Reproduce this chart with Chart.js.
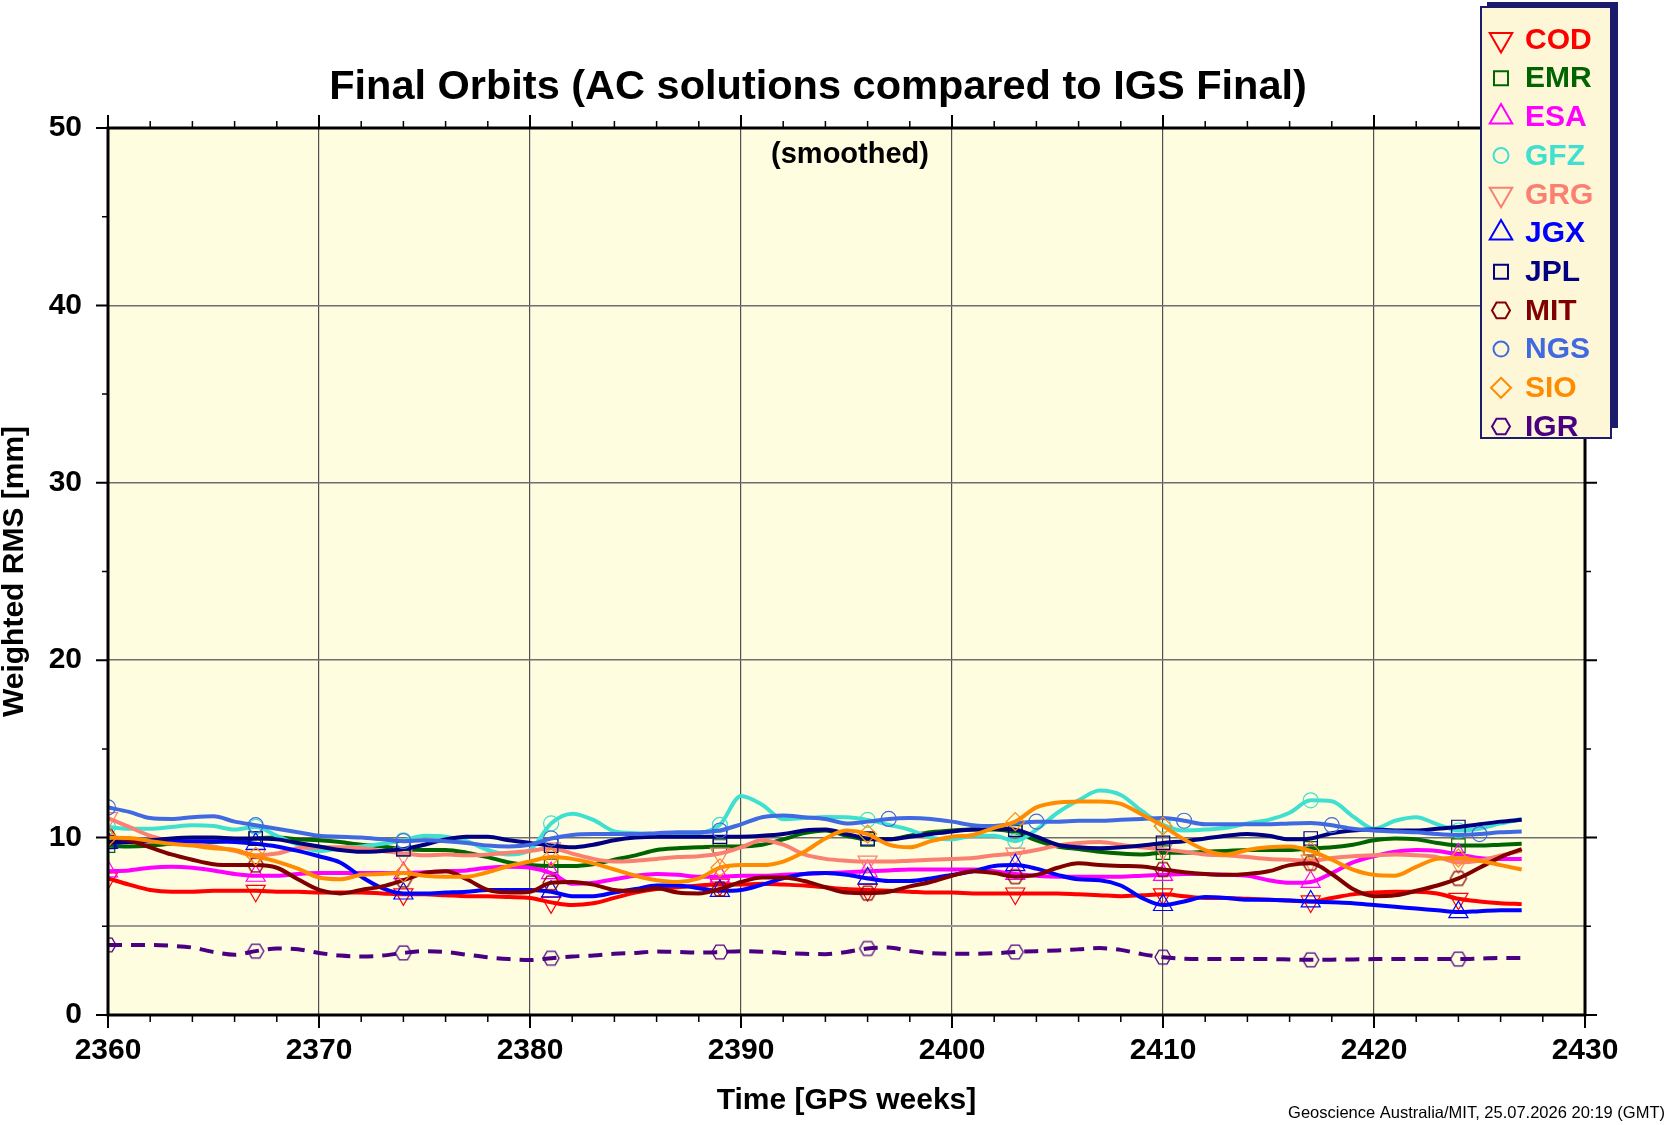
<!DOCTYPE html>
<html>
<head>
<meta charset="utf-8">
<title>Final Orbits</title>
<script src="https://cdn.jsdelivr.net/npm/chart.js@4.4.1/dist/chart.umd.min.js"></script>
<style>
  html, body { margin: 0; padding: 0; background: #fff; }
  #wrap { width: 1667px; height: 1125px; }
</style>
</head>
<body>
<div id="wrap"><canvas id="orbitChart" width="1667" height="1125"></canvas></div>
<script>
// GPS weeks (x axis)
const weeks = [
  2360, 2361, 2362, 2363, 2364, 2365, 2366, 2367, 2368, 2369,
  2370, 2371, 2372, 2373, 2374, 2375, 2376, 2377, 2378, 2379,
  2380, 2381, 2382, 2383, 2384, 2385, 2386, 2387, 2388, 2389,
  2390, 2391, 2392, 2393, 2394, 2395, 2396, 2397, 2398, 2399,
  2400, 2401, 2402, 2403, 2404, 2405, 2406, 2407, 2408, 2409,
  2410, 2411, 2412, 2413, 2414, 2415, 2416, 2417, 2418, 2419,
  2420, 2421, 2422, 2423, 2424, 2425, 2426, 2427
];

// weeks that carry a symbol on the curve
const markWeeks = [2360, 2367, 2374, 2381, 2389, 2396, 2403, 2410, 2417, 2424];
const ngsMarkWeeks = [2360, 2367, 2374, 2381, 2389, 2397, 2404, 2411, 2418, 2425];

// smoothed weighted RMS [mm] per analysis centre
const codRms = [
  7.7, 7.35, 7.05, 6.95, 6.95, 7.0, 7.0, 7.0, 6.95, 6.95,
  6.9, 6.9, 6.9, 6.85, 6.8, 6.8, 6.75, 6.7, 6.7, 6.65,
  6.6, 6.35, 6.2, 6.3, 6.6, 6.9, 7.1, 7.2, 7.3, 7.35,
  7.35, 7.4, 7.35, 7.3, 7.2, 7.1, 7.05, 7.0, 6.95, 6.9,
  6.9, 6.85, 6.85, 6.85, 6.85, 6.85, 6.8, 6.75, 6.7, 6.75,
  6.8, 6.7, 6.6, 6.6, 6.55, 6.5, 6.45, 6.4, 6.6, 6.8,
  6.9, 6.95, 6.95, 6.85, 6.55, 6.4, 6.3, 6.25
];
const emrRms = [
  9.55, 9.5, 9.55, 9.65, 9.7, 9.75, 9.85, 9.95, 10.0, 9.9,
  9.85, 9.75, 9.6, 9.5, 9.35, 9.3, 9.3, 9.15, 8.9, 8.6,
  8.45, 8.4, 8.4, 8.5, 8.75, 9.0, 9.3, 9.4, 9.45, 9.5,
  9.5, 9.6, 9.9, 10.25, 10.4, 10.1, 9.9, 9.9, 10.1, 10.3,
  10.4, 10.45, 10.45, 10.3, 9.85, 9.5, 9.35, 9.2, 9.1, 9.05,
  9.15, 9.15, 9.2, 9.25, 9.3, 9.3, 9.3, 9.4, 9.45, 9.6,
  9.85, 9.95, 9.9, 9.7, 9.55, 9.55, 9.6, 9.65
];
const esaRms = [
  8.1, 8.15, 8.3, 8.35, 8.3, 8.15, 7.95, 7.85, 7.85, 7.95,
  8.0, 8.0, 8.0, 8.0, 8.0, 8.05, 8.1, 8.15, 8.3, 8.35,
  8.3, 8.0, 7.4, 7.45, 7.65, 7.85, 7.95, 7.9, 7.8, 7.8,
  7.85, 7.85, 7.9, 7.95, 8.0, 8.05, 8.1, 8.15, 8.2, 8.2,
  8.2, 8.2, 8.1, 7.95, 7.85, 7.8, 7.8, 7.8, 7.8, 7.85,
  7.9, 7.95, 7.95, 7.9, 7.85, 7.6, 7.45, 7.5, 8.0, 8.6,
  8.95, 9.2, 9.3, 9.25, 9.05, 8.85, 8.8, 8.8
];
const gfzRms = [
  10.6, 10.5, 10.5, 10.6, 10.7, 10.65, 10.45, 10.6, 10.1, 9.6,
  9.25, 9.4, 9.5, 9.65, 9.85, 10.1, 10.05, 9.8, 9.3, 9.05,
  9.3, 10.8, 11.35, 11.0, 10.35, 10.25, 10.2, 10.2, 10.25, 10.72,
  12.35, 11.85, 11.04, 11.1, 11.16, 11.15, 11.0, 10.72, 10.44, 10.0,
  9.9, 10.1, 10.1, 9.8, 10.45, 11.4, 12.1, 12.65, 12.4, 11.5,
  10.72, 10.4, 10.45, 10.55, 10.8, 11.0, 11.4, 12.1, 12.05, 11.2,
  10.5, 10.95, 11.15, 10.75, 10.4, 10.5, 10.8, 11.05
];
const grgRms = [
  11.1, 10.6, 10.1, 9.8, 9.65, 9.5, 9.25, 9.0, 9.1, 9.4,
  9.45, 9.45, 9.4, 9.25, 9.1, 9.0, 9.05, 9.0, 9.05, 9.15,
  9.25, 9.4, 9.1, 8.8, 8.65, 8.7, 8.8, 8.9, 8.95, 9.1,
  9.45, 9.85, 9.6, 9.05, 8.8, 8.7, 8.65, 8.65, 8.7, 8.75,
  8.8, 8.85, 9.0, 9.1, 9.3, 9.55, 9.7, 9.75, 9.6, 9.45,
  9.35, 9.2, 9.05, 9.0, 8.9, 8.8, 8.75, 8.7, 8.85, 8.95,
  9.0, 9.05, 9.0, 8.9, 8.6, 8.7, 9.0, 9.25
];
const jgxRms = [
  9.7, 9.75, 9.8, 9.8, 9.8, 9.8, 9.75, 9.65, 9.5, 9.25,
  8.95, 8.6, 7.8, 7.15, 6.85, 6.85, 6.9, 6.95, 7.05, 7.05,
  7.05, 6.95, 6.7, 6.7, 6.9, 7.1, 7.3, 7.3, 7.15, 7.0,
  7.05, 7.35, 7.7, 7.95, 8.0, 7.9, 7.7, 7.55, 7.55, 7.7,
  7.9, 8.1, 8.4, 8.45, 8.25, 7.9, 7.65, 7.6, 7.3, 6.6,
  6.2, 6.4, 6.65, 6.6, 6.5, 6.5, 6.45, 6.4, 6.35, 6.3,
  6.2, 6.1, 6.0, 5.9, 5.8, 5.85, 5.9, 5.9
];
const jplRms = [
  9.75, 9.75, 9.85, 9.95, 10.0, 10.0, 9.95, 9.95, 9.9, 9.7,
  9.5, 9.3, 9.2, 9.25, 9.35, 9.6, 9.9, 10.05, 10.05, 9.85,
  9.7, 9.55, 9.45, 9.6, 9.85, 10.0, 10.05, 10.05, 10.05, 10.05,
  10.05, 10.1, 10.2, 10.4, 10.45, 10.2, 9.95, 9.9, 10.05, 10.2,
  10.35, 10.45, 10.5, 10.45, 10.05, 9.6, 9.45, 9.4, 9.45, 9.55,
  9.7, 9.8, 9.95, 10.1, 10.2, 10.1, 9.9, 9.95, 10.25, 10.4,
  10.45, 10.4, 10.4, 10.5, 10.6, 10.75, 10.9, 11.0
];
const mitRms = [
  10.05, 9.85, 9.45, 9.05, 8.75, 8.5, 8.45, 8.45, 8.3, 7.65,
  7.05, 6.85, 7.05, 7.25, 7.6, 8.0, 8.1, 7.65, 7.05, 6.9,
  6.95, 7.45, 7.5, 7.35, 7.05, 7.0, 7.15, 6.9, 6.85, 7.1,
  7.5, 7.75, 7.75, 7.55, 7.2, 6.9, 6.87, 6.95, 7.25, 7.5,
  7.85, 8.1, 8.0, 7.8, 7.9, 8.3, 8.55, 8.45, 8.4, 8.37,
  8.2, 8.05, 7.95, 7.9, 7.95, 8.1, 8.45, 8.55, 7.95, 7.1,
  6.7, 6.75, 7.0, 7.3, 7.7, 8.3, 8.9, 9.35
];
const ngsRms = [
  11.7, 11.45, 11.1, 11.05, 11.15, 11.2, 10.9, 10.7, 10.5, 10.3,
  10.1, 10.05, 10.0, 9.9, 9.8, 9.85, 9.8, 9.7, 9.55, 9.5,
  9.6, 9.95, 10.15, 10.2, 10.2, 10.2, 10.25, 10.3, 10.3, 10.4,
  10.75, 11.15, 11.25, 11.15, 11.05, 10.8, 10.9, 11.05, 11.1, 11.05,
  10.9, 10.7, 10.65, 10.8, 10.9, 10.9, 10.95, 10.95, 11.0, 11.05,
  11.1, 10.95, 10.75, 10.75, 10.75, 10.75, 10.8, 10.82, 10.7, 10.5,
  10.4, 10.35, 10.3, 10.2, 10.15, 10.2, 10.3, 10.35
];
const sioRms = [
  10.0, 9.98, 9.8, 9.65, 9.55, 9.4, 9.3, 8.95, 8.65, 8.25,
  7.75, 7.65, 7.9, 7.95, 8.0, 7.85, 7.8, 7.8, 8.05, 8.4,
  8.65, 8.9, 8.8, 8.55, 8.2, 7.85, 7.6, 7.5, 7.7, 8.3,
  8.45, 8.45, 8.65, 9.2, 9.95, 10.4, 10.2, 9.6, 9.45, 9.8,
  10.05, 10.15, 10.55, 10.9, 11.7, 11.98, 12.03, 12.04, 11.9, 11.3,
  10.65, 9.9, 9.3, 9.05, 9.3, 9.45, 9.5, 9.25, 8.75, 8.2,
  7.9, 7.85, 8.35, 8.8, 8.85, 8.7, 8.45, 8.2
];
const igrRms = [
  3.95, 3.95, 3.95, 3.9, 3.8, 3.55, 3.4, 3.6, 3.75, 3.7,
  3.5, 3.35, 3.3, 3.35, 3.5, 3.6, 3.55, 3.4, 3.25, 3.15,
  3.1, 3.2, 3.3, 3.35, 3.45, 3.5, 3.58, 3.55, 3.52, 3.55,
  3.6, 3.57, 3.5, 3.45, 3.43, 3.55, 3.75, 3.8, 3.6, 3.48,
  3.45, 3.45, 3.48, 3.55, 3.6, 3.64, 3.7, 3.77, 3.67, 3.43,
  3.26, 3.17, 3.15, 3.15, 3.15, 3.15, 3.13, 3.11, 3.12, 3.13,
  3.15, 3.15, 3.15, 3.15, 3.15, 3.18, 3.22, 3.22
];

const FONT = '"Liberation Sans", Arial, Helvetica, sans-serif';
Chart.defaults.font.family = FONT;

// outline hexagon used as point style (flat top and bottom)
function hexImage(color, r) {
    const c = document.createElement('canvas');
    c.width = c.height = Math.ceil(r * 2 + 4);
    const g = c.getContext('2d');
    hexPath(g, c.width / 2, c.height / 2, r);
    g.strokeStyle = color;
    g.lineWidth = 1.3;
    g.stroke();
    return c;
}
function hexPath(g, x, y, r) {
    g.beginPath();
    for (let k = 0; k < 6; k++) {
        const a = k * Math.PI / 3;
        const px = x + r * Math.cos(a), py = y + r * Math.sin(a);
        k ? g.lineTo(px, py) : g.moveTo(px, py);
    }
    g.closePath();
}

const series = [
    { name: 'COD', values: codRms, color: '#ff0000', mark: 'triDown' },
    { name: 'EMR', values: emrRms, color: '#006400', mark: 'square' },
    { name: 'ESA', values: esaRms, color: '#ff00ff', mark: 'triUp' },
    { name: 'GFZ', values: gfzRms, color: '#40e0d0', mark: 'circle' },
    { name: 'GRG', values: grgRms, color: '#fa8072', mark: 'triDown' },
    { name: 'JGX', values: jgxRms, color: '#0000ff', mark: 'triUp' },
    { name: 'JPL', values: jplRms, color: '#000080', mark: 'square' },
    { name: 'MIT', values: mitRms, color: '#800000', mark: 'hex' },
    { name: 'NGS', values: ngsRms, color: '#4169e1', mark: 'circle', marks: ngsMarkWeeks },
    { name: 'SIO', values: sioRms, color: '#ff8c00', mark: 'diamond' },
    { name: 'IGR', values: igrRms, color: '#4b0082', mark: 'hex', dash: [14, 9] }
];

// Chart.js point styles for each marker kind
function pointStyleFor(s) {
    switch (s.mark) {
        case 'triDown': return { style: 'triangle', rot: 180, r: 11 };
        case 'triUp': return { style: 'triangle', rot: 0, r: 11 };
        case 'square': return { style: 'rect', rot: 0, r: 9.5 };
        case 'circle': return { style: 'circle', rot: 0, r: 7.5 };
        case 'diamond': return { style: 'rectRot', rot: 0, r: 9 };
        default: return { style: hexImage(s.color, 8), rot: 0, r: 8 };
    }
}

const datasets = series.map((s, i) => {
    const ps = pointStyleFor(s);
    const marks = s.marks || markWeeks;
    return {
        label: s.name,
        data: weeks.map((w, k) => ({ x: w, y: s.values[k] })),
        borderColor: s.color,
        borderWidth: 4,
        borderDash: s.dash || [],
        cubicInterpolationMode: 'monotone',
        fill: false,
        order: series.length - i, // later centres drawn on top
        pointStyle: ps.style,
        pointRotation: ps.rot,
        pointRadius: ctx => (marks.includes(weeks[ctx.dataIndex]) ? ps.r : 0),
        pointHoverRadius: 0,
        pointBorderWidth: 1.2,
        pointBorderColor: s.color,
        pointBackgroundColor: 'rgba(0,0,0,0)'
    };
});

// small legend symbol painter
function drawMark(g, kind, x, y, color) {
    g.save();
    g.strokeStyle = color;
    g.lineWidth = 2;
    g.beginPath();
    if (kind === 'triDown' || kind === 'triUp') {
        const r = 13, d = kind === 'triUp' ? -1 : 1;
        for (let k = 0; k < 3; k++) {
            const a = k * 2 * Math.PI / 3;
            const px = x + r * Math.sin(a), py = y + d * r * Math.cos(a);
            k ? g.lineTo(px, py) : g.moveTo(px, py);
        }
        g.closePath();
    } else if (kind === 'square') {
        g.rect(x - 7, y - 7, 14, 14);
    } else if (kind === 'circle') {
        g.arc(x, y, 7.5, 0, Math.PI * 2);
    } else if (kind === 'diamond') {
        g.moveTo(x, y - 10); g.lineTo(x + 10, y); g.lineTo(x, y + 10); g.lineTo(x - 10, y);
        g.closePath();
    } else {
        hexPath(g, x, y, 9);
    }
    g.stroke();
    g.restore();
}

const decorPlugin = {
    id: 'decor',
    beforeDraw(chart) {
        const { ctx, chartArea: a } = chart;
        ctx.save();
        ctx.fillStyle = '#fffde0';
        ctx.fillRect(a.left, a.top, a.right - a.left, a.bottom - a.top);
        ctx.restore();
    },
    afterDraw(chart) {
        const { ctx, chartArea: a } = chart;
        const xs = chart.scales.x, ys = chart.scales.y;
        ctx.save();

        // frame
        ctx.strokeStyle = '#000';
        ctx.lineWidth = 3;
        ctx.strokeRect(a.left, a.top, a.right - a.left, a.bottom - a.top);

        // outward ticks on all four sides
        ctx.lineCap = 'butt';
        xs.ticks.forEach(t => {
            const px = xs.getPixelForValue(t.value);
            const major = t.value % 10 === 0;
            const len = major ? 13 : 7;
            ctx.lineWidth = major ? 2 : 1.5;
            ctx.beginPath();
            ctx.moveTo(px, a.bottom); ctx.lineTo(px, a.bottom + len);
            ctx.moveTo(px, a.top); ctx.lineTo(px, a.top - len);
            ctx.stroke();
        });
        ys.ticks.forEach(t => {
            const py = ys.getPixelForValue(t.value);
            const major = t.value % 10 === 0;
            const len = major ? 12 : 6;
            ctx.lineWidth = major ? 2 : 1.5;
            ctx.beginPath();
            ctx.moveTo(a.left, py); ctx.lineTo(a.left - len, py);
            ctx.moveTo(a.right, py); ctx.lineTo(a.right + len, py);
            ctx.stroke();
        });

        // titles
        ctx.fillStyle = '#000';
        ctx.textAlign = 'center';
        ctx.textBaseline = 'middle';
        ctx.font = 'bold 41.5px ' + FONT;
        ctx.fillText('Final Orbits (AC solutions compared to IGS Final)', 818, 88);
        ctx.font = 'bold 29px ' + FONT;
        ctx.fillText('(smoothed)', 850, 155);

        // footer
        ctx.textAlign = 'right';
        ctx.textBaseline = 'alphabetic';
        ctx.font = '16.5px ' + FONT;
        ctx.fillText('Geoscience Australia/MIT, 25.07.2026 20:19 (GMT)', 1665, 1118);

        // legend with shadow
        const bx = 1481, by = 7, bw = 130, bh = 431;
        ctx.fillStyle = '#1c1c6c';
        ctx.fillRect(bx + 6, by - 5, bw + 1, bh - 5);
        ctx.fillStyle = '#fdf7d8';
        ctx.fillRect(bx, by, bw, bh);
        ctx.strokeStyle = '#1c1c6c';
        ctx.lineWidth = 2;
        ctx.strokeRect(bx, by, bw, bh);

        ctx.textAlign = 'left';
        ctx.textBaseline = 'middle';
        ctx.font = 'bold 30px ' + FONT;
        series.forEach((s, i) => {
            const y = 39.5 + i * 38.7;
            drawMark(ctx, s.mark, 1501, y, s.color);
            ctx.fillStyle = s.color;
            ctx.fillText(s.name, 1525, y + 1);
        });
        ctx.restore();
    }
};

new Chart(document.getElementById('orbitChart'), {
    type: 'line',
    data: { datasets: datasets },
    options: {
        responsive: false,
        animation: false,
        events: [],
        layout: { padding: { top: 128, right: 82, bottom: 0, left: 0 } },
        plugins: {
            legend: { display: false },
            title: { display: false },
            tooltip: { enabled: false }
        },
        scales: {
            x: {
                type: 'linear',
                min: 2360,
                max: 2430,
                afterFit: s => { s.height = 110; },
                border: { display: false },
                grid: {
                    drawTicks: false,
                    color: c => (c.tick.value % 10 === 0 ? '#505050' : 'rgba(0,0,0,0)'),
                    lineWidth: 1.2
                },
                ticks: {
                    stepSize: 2,
                    padding: 18,
                    autoSkip: false,
                    maxRotation: 0,
                    color: '#000',
                    font: { size: 30, weight: 'bold' },
                    callback: v => (v % 10 === 0 ? String(v) : '')
                },
                title: {
                    display: true,
                    text: 'Time [GPS weeks]',
                    color: '#000',
                    font: { size: 30, weight: 'bold', lineHeight: 1.2 },
                    padding: { top: 0, bottom: 6 }
                }
            },
            y: {
                min: 0,
                max: 50,
                afterFit: s => { s.width = 108; },
                border: { display: false },
                grid: {
                    drawTicks: false,
                    color: c => {
                        const v = c.tick.value;
                        if (v % 10 === 0) return '#6e6e6e';
                        return v === 5 ? '#999999' : 'rgba(0,0,0,0)';
                    },
                    lineWidth: c => (c.tick.value === 5 ? 2 : 1.4)
                },
                ticks: {
                    stepSize: 5,
                    padding: 26,
                    color: '#000',
                    font: { size: 30, weight: 'bold' },
                    callback: v => (v % 10 === 0 ? String(v) : '')
                },
                title: {
                    display: true,
                    text: 'Weighted RMS [mm]',
                    color: '#000',
                    font: { size: 30, weight: 'bold', lineHeight: 1 },
                    padding: 0
                }
            }
        }
    },
    plugins: [decorPlugin]
});
</script>
</body>
</html>
